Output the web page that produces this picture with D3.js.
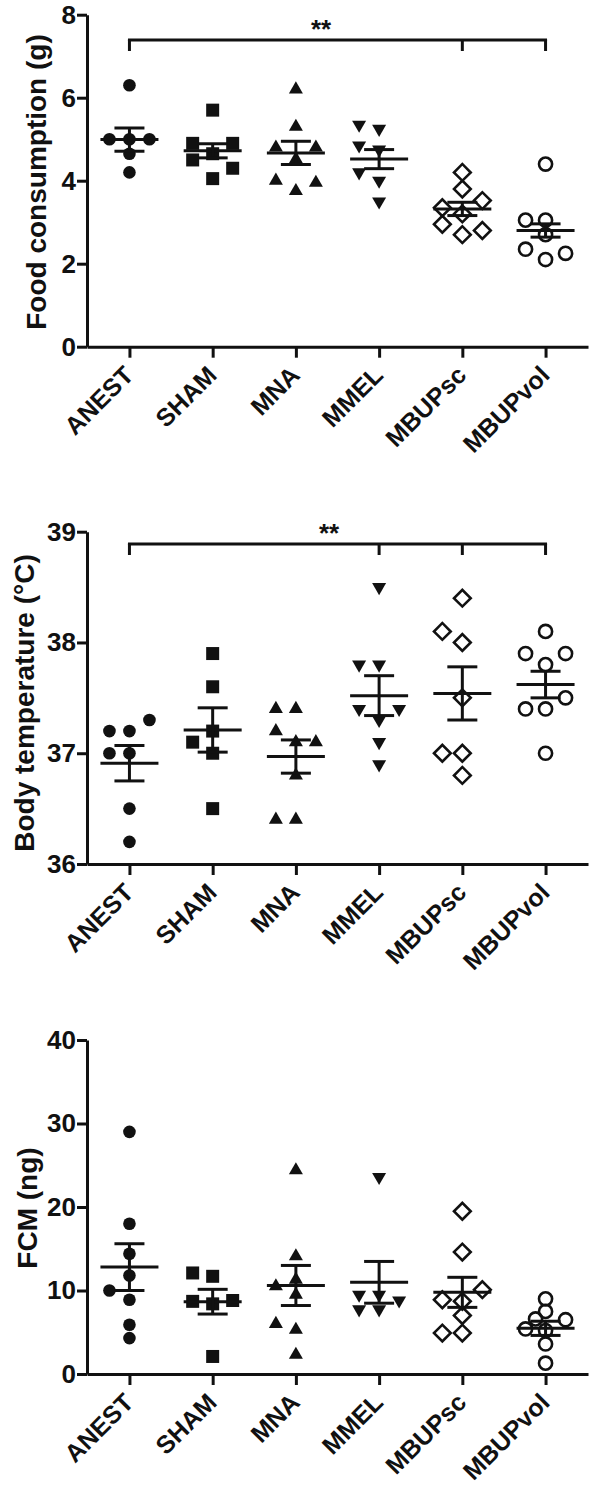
<!DOCTYPE html>
<html>
<head>
<meta charset="utf-8">
<script src="https://cdn.jsdelivr.net/npm/d3@7"></script>
<style>
  body { margin: 0; background: #fff; }
  svg text { font-family: Arial, "Liberation Sans", Helvetica, sans-serif; font-weight: bold; }
</style>
</head>
<body>
<svg id="chart" width="601" height="1498"></svg>
<script>
var groups = ["ANEST", "SHAM", "MNA", "MMEL", "MBUPsc", "MBUPvol"];

// food consumption (g), one array per group
var foodValues = [
  [6.3, 5.0, 5.0, 5.0, 4.65, 4.2],
  [5.7, 4.65, 4.9, 4.9, 4.05, 4.5, 4.3],
  [6.2, 5.3, 4.52, 4.8, 4.8, 3.75, 4.0, 3.95],
  [5.25, 5.35, 4.75, 4.85, 4.0, 4.2, 3.5],
  [3.8, 3.2, 2.7, 3.35, 3.52, 2.95, 2.8, 4.2],
  [4.4, 2.1, 2.7, 3.05, 3.05, 2.35, 2.25]
];
var foodMean = [4.99, 4.72, 4.67, 4.52, 3.32, 2.80];
var foodSem = [0.28, 0.17, 0.28, 0.23, 0.16, 0.16];
var foodTicks = [0, 2, 4, 6, 8];
var foodSig = ["ANEST", "MBUPsc", "MBUPvol"];

// body temperature (°C)
var tempValues = [
  [37.2, 37.2, 37.3, 37.0, 37.0, 36.5, 36.2],
  [37.9, 37.6, 37.2, 37.1, 37.0, 36.5],
  [37.4, 37.4, 37.1, 37.2, 37.1, 36.8, 36.4, 36.4],
  [38.5, 37.8, 37.8, 37.3, 37.4, 37.4, 37.1, 36.9],
  [38.4, 38.0, 38.1, 37.5, 37.0, 37.0, 36.8],
  [38.1, 37.8, 37.9, 37.9, 37.4, 37.4, 37.5, 37.0]
];
var tempMean = [36.91, 37.21, 36.97, 37.52, 37.54, 37.62];
var tempSem = [0.16, 0.20, 0.15, 0.18, 0.24, 0.12];
var tempTicks = [36, 37, 38, 39];
var tempSig = ["ANEST", "MMEL", "MBUPsc", "MBUPvol"];

// FCM (ng)
var fcmValues = [
  [29, 18, 14.4, 11.8, 8.9, 10, 4.3, 5.9],
  [11.7, 12.1, 8.4, 8.7, 8.8, 2.1],
  [24.4, 14.1, 9.5, 10.5, 11.3, 5.3, 6.0, 2.3],
  [23.6, 9.5, 9.5, 8.8, 7.75, 7.75],
  [19.5, 14.6, 8.7, 8.9, 10.1, 7.0, 4.9, 4.9],
  [7.5, 5.2, 5.4, 6.5, 6.6, 9.0, 3.6, 1.3]
];
var fcmMean = [12.8, 8.66, 10.6, 10.98, 9.78, 5.47];
var fcmSem = [2.8, 1.48, 2.4, 2.5, 1.8, 0.85];
var fcmTicks = [0, 10, 20, 30, 40];

var ink = "#111";

var panels = [
  {title: "Food consumption (g)", values: foodValues, mean: foodMean, sem: foodSem,
   domain: [0, 8], ticks: foodTicks, top: 14.7, bottom: 346.7, titleX: 46, titleY: 182,
   sig: foodSig, sigY: 40, starX: 321},
  {title: "Body temperature (°C)", values: tempValues, mean: tempMean, sem: tempSem,
   domain: [36, 39], ticks: tempTicks, top: 531.7, bottom: 864, titleX: 34, titleY: 703,
   sig: tempSig, sigY: 544, starX: 329},
  {title: "FCM (ng)", values: fcmValues, mean: fcmMean, sem: fcmSem,
   domain: [0, 40], ticks: fcmTicks, top: 1040, bottom: 1374, titleX: 37, titleY: 1208,
   sig: null}
];

// marker per group: filled circle, square, triangle, inverted triangle, open diamond, open circle
var markers = [
  {type: d3.symbolCircle, size: 125, rot: 0, fill: true},
  {type: d3.symbolSquare, size: 169, rot: 0, fill: true},
  {type: d3.symbolTriangle, size: 85, rot: 0, fill: true},
  {type: d3.symbolTriangle, size: 85, rot: 180, fill: true},
  {type: d3.symbolSquare, size: 140, rot: 45, fill: false},
  {type: d3.symbolCircle, size: 135, rot: 0, fill: false}
];

var svg = d3.select("#chart");

var x = d3.scalePoint()
    .domain(groups)
    .range([87, 588])
    .padding(0.51);

// spread points of one group sideways so they don't sit on each other
function swarm(vals, y) {
  var placed = [], D = 12;
  var offsets = [0, -20, 20, -10, 10, -30, 30, -40, 40];
  return vals.map(function(v) {
    var py = y(v);
    for (var i = 0; i < offsets.length; i++) {
      var dx = offsets[i];
      var free = placed.every(function(p) {
        var a = p.dx - dx, b = p.py - py;
        return a * a + b * b >= D * D;
      });
      if (free) { placed.push({dx: dx, py: py}); return {v: v, dx: dx}; }
    }
    return {v: v, dx: 0};
  });
}

panels.forEach(function(p) {
  var y = d3.scaleLinear().domain(p.domain).range([p.bottom, p.top]);
  var g = svg.append("g");

  var yAxis = g.append("g")
      .attr("transform", "translate(87,0)")
      .call(d3.axisLeft(y).tickValues(p.ticks).tickFormat(d3.format("d"))
        .tickSize(10).tickSizeOuter(0).tickPadding(1));

  var xAxis = g.append("g")
      .attr("transform", "translate(0," + p.bottom + ")")
      .call(d3.axisBottom(x).tickSize(11).tickSizeOuter(0));

  [yAxis, xAxis].forEach(function(a) {
    a.attr("font-family", null).attr("font-size", null);
    a.selectAll("path, line").attr("stroke", ink).attr("stroke-width", 3);
    a.selectAll("text").attr("fill", ink);
  });
  yAxis.selectAll("text").style("font-size", "26px");
  xAxis.selectAll("text")
      .style("font-size", "25px")
      .attr("y", 0)
      .attr("dy", 0)
      .attr("transform", "translate(5,30) rotate(-45)")
      .style("text-anchor", "end");

  g.append("text")
      .attr("transform", "translate(" + p.titleX + "," + p.titleY + ") rotate(-90)")
      .style("text-anchor", "middle")
      .style("font-size", "28px")
      .attr("fill", ink)
      .text(p.title);

  // points
  p.values.forEach(function(vals, i) {
    var m = markers[i];
    var cx = x(groups[i]);
    g.selectAll(null)
        .data(swarm(vals, y))
      .enter().append("path")
        .attr("d", d3.symbol().type(m.type).size(m.size))
        .attr("transform", function(d) {
          return "translate(" + (cx + d.dx) + "," + y(d.v) + ") rotate(" + m.rot + ")";
        })
        .attr("fill", m.fill ? ink : "none")
        .attr("stroke", m.fill ? "none" : ink)
        .attr("stroke-width", 2.6);
  });

  // mean and SEM
  var stats = groups.map(function(name, i) {
    return {x: x(name), mean: p.mean[i], sem: p.sem[i]};
  });
  var lines = g.append("g").attr("stroke", ink).attr("stroke-width", 3);
  lines.selectAll(".mean").data(stats).enter().append("line")
      .attr("x1", function(d) { return d.x - 29; })
      .attr("x2", function(d) { return d.x + 29; })
      .attr("y1", function(d) { return y(d.mean); })
      .attr("y2", function(d) { return y(d.mean); });
  lines.selectAll(".err").data(stats).enter().append("line")
      .attr("x1", function(d) { return d.x; })
      .attr("x2", function(d) { return d.x; })
      .attr("y1", function(d) { return y(d.mean - d.sem); })
      .attr("y2", function(d) { return y(d.mean + d.sem); });
  [1, -1].forEach(function(sign) {
    lines.selectAll(null).data(stats).enter().append("line")
        .attr("x1", function(d) { return d.x - 15; })
        .attr("x2", function(d) { return d.x + 15; })
        .attr("y1", function(d) { return y(d.mean + sign * d.sem); })
        .attr("y2", function(d) { return y(d.mean + sign * d.sem); });
  });

  // significance bracket
  if (p.sig) {
    var b = g.append("g").attr("stroke", ink).attr("stroke-width", 3).attr("fill", "none");
    b.append("line")
        .attr("x1", x(p.sig[0]) - 1.5)
        .attr("x2", x(p.sig[p.sig.length - 1]) + 1.5)
        .attr("y1", p.sigY).attr("y2", p.sigY);
    b.selectAll(null).data(p.sig).enter().append("line")
        .attr("x1", function(d) { return x(d); })
        .attr("x2", function(d) { return x(d); })
        .attr("y1", p.sigY)
        .attr("y2", p.sigY + 11);
    g.append("text")
        .attr("x", p.starX)
        .attr("y", p.sigY - 2)
        .style("text-anchor", "middle")
        .style("font-size", "26px")
        .attr("fill", ink)
        .text("**");
  }
});
</script>
</body>
</html>
